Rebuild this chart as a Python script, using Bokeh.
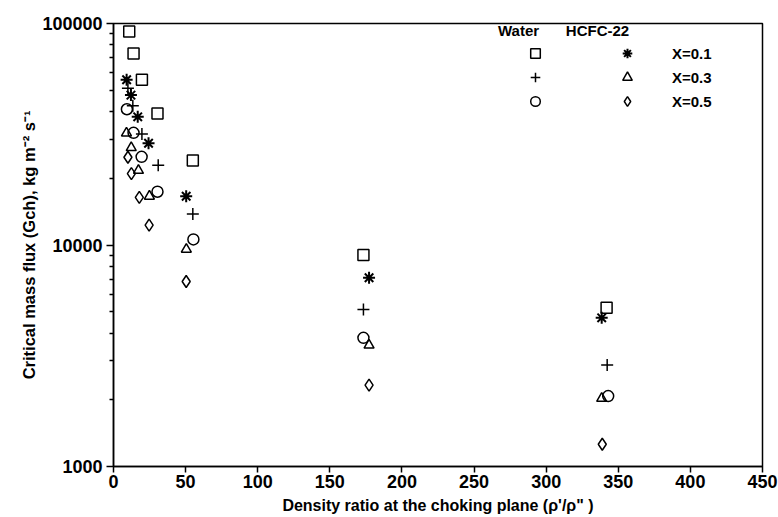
from bokeh.plotting import figure
from bokeh.models import FixedTicker, PrintfTickFormatter, Legend, LegendItem, Label
from bokeh.embed import file_html
from bokeh.resources import INLINE

# ---------------- data ----------------
density_water_x01 = [10.9, 13.9, 19.7, 30.5, 55.0, 173.3, 341.9]
flux_water_x01 = [92000, 73200, 55700, 39200, 24100, 9020, 5210]

density_water_x03 = [10.0, 13.4, 19.7, 31.0, 55.0, 173.3, 342.3]
flux_water_x03 = [51000, 42500, 31700, 22900, 13800, 5120, 2870]

density_water_x05 = [9.3, 13.9, 19.5, 30.5, 55.4, 173.3, 343.0]
flux_water_x05 = [41000, 32100, 25000, 17400, 10600, 3810, 2080]

density_hcfc_x01 = [9.1, 12.1, 16.8, 24.3, 50.4, 177.2, 338.5]
flux_hcfc_x01 = [55700, 47500, 37900, 28800, 16600, 7120, 4690]

density_hcfc_x03 = [9.0, 12.3, 17.3, 24.9, 50.5, 177.2, 338.5]
flux_hcfc_x03 = [32000, 27500, 21700, 16600, 9560, 3530, 2030]

density_hcfc_x05 = [10.0, 12.4, 17.9, 24.7, 50.4, 177.2, 338.9]
flux_hcfc_x05 = [24900, 21000, 16400, 12300, 6840, 2330, 1260]

x_ticks = [0, 50, 100, 150, 200, 250, 300, 350, 400, 450]
y_ticks = [1000, 10000, 100000]
quality_labels = ["X=0.1", "X=0.3", "X=0.5"]
fluid_labels = ["Water", "HCFC-22"]

FONT = "Liberation Sans"

p = figure(width=778, height=517, x_range=(0, 450), y_range=(1000, 100000),
           y_axis_type="log", output_backend="svg", toolbar_location=None,
           min_border_left=113, min_border_right=16, min_border_top=23,
           min_border_bottom=51)
p.grid.visible = False
p.outline_line_color = "black"
p.outline_line_width = 1.5
p.background_fill_color = "white"
p.border_fill_color = "white"

# axes
minor = [m * 10 ** d for d in (3, 4) for m in range(2, 10)]
p.yaxis.ticker = FixedTicker(ticks=y_ticks, minor_ticks=minor)
p.yaxis.formatter = PrintfTickFormatter(format="%d")
p.xaxis.ticker = FixedTicker(ticks=x_ticks, minor_ticks=[])
for ax in (p.xaxis[0], p.yaxis[0]):
    ax.axis_line_color = "black"
    ax.axis_line_width = 1.5
    ax.major_tick_line_color = "black"
    ax.major_tick_line_width = 1.5
    ax.minor_tick_line_color = "black"
    ax.minor_tick_line_width = 1.5
    ax.major_tick_in = 0
    ax.minor_tick_in = 0
    ax.major_label_text_font = FONT
    ax.major_label_text_font_style = "bold"
    ax.major_label_text_font_size = "18px"
    ax.major_label_text_color = "black"
    ax.axis_label_text_font = FONT
    ax.axis_label_text_font_style = "bold"
    ax.axis_label_text_color = "black"
p.yaxis.major_tick_out = 7
p.yaxis.minor_tick_out = 4
p.yaxis.major_label_standoff = 4
p.xaxis.major_tick_out = 6
p.xaxis.major_label_standoff = 2

p.xaxis.axis_label = "Density ratio at the choking plane (\u03c1'/\u03c1\" )"
p.xaxis.axis_label_text_font_size = "16px"
p.xaxis.axis_label_standoff = 6
p.yaxis.axis_label = "Critical mass flux (Gch), kg m\u207b\u00b2 s\u207b\u00b9"
p.yaxis.axis_label_text_font_size = "16.5px"
p.yaxis.axis_label_standoff = 1

# data marks
common = dict(fill_alpha=0, line_color="black", line_width=1.5)
r_w1 = p.scatter(density_water_x01, flux_water_x01, marker="square", size=11, **common)
r_w3 = p.scatter(density_water_x03, flux_water_x03, marker="cross", size=12, **common)
r_w5 = p.scatter(density_water_x05, flux_water_x05, marker="circle", size=11, **common)
r_h1 = p.scatter(density_hcfc_x01, flux_hcfc_x01, marker="asterisk", size=12,
                 fill_alpha=0, line_color="black", line_width=2)
r_h3 = p.scatter(density_hcfc_x03, flux_hcfc_x03, marker="triangle", size=10, **common)
r_h5 = p.scatter(density_hcfc_x05, flux_hcfc_x05, marker="diamond", size=12, **common)

# legend: two columns of keys, labels on the right
leg_common = dict(glyph_width=24, glyph_height=24, label_height=24, spacing=0,
                  padding=0, border_line_alpha=0, background_fill_alpha=0,
                  label_text_font=FONT, label_text_font_style="bold",
                  label_text_font_size="15px", label_text_color="black")
leg_w = Legend(items=[LegendItem(label=" ", renderers=[r]) for r in (r_w1, r_w3, r_w5)],
               location=(410, 353), label_standoff=0, **leg_common)
leg_h = Legend(items=[LegendItem(label=t, renderers=[r])
                      for t, r in zip(quality_labels, (r_h1, r_h3, r_h5))],
               location=(502, 353), label_standoff=33, **leg_common)
p.add_layout(leg_w, "center")
p.add_layout(leg_h, "center")

for txt, xx in zip(fluid_labels, (405, 484)):
    p.add_layout(Label(x=xx, y=436, x_units="screen", y_units="screen", text=txt,
                       text_align="center", text_baseline="middle",
                       text_font=FONT, text_font_style="bold",
                       text_font_size="15px", text_color="black"))

open("out.html", "w").write(file_html(p, INLINE))
